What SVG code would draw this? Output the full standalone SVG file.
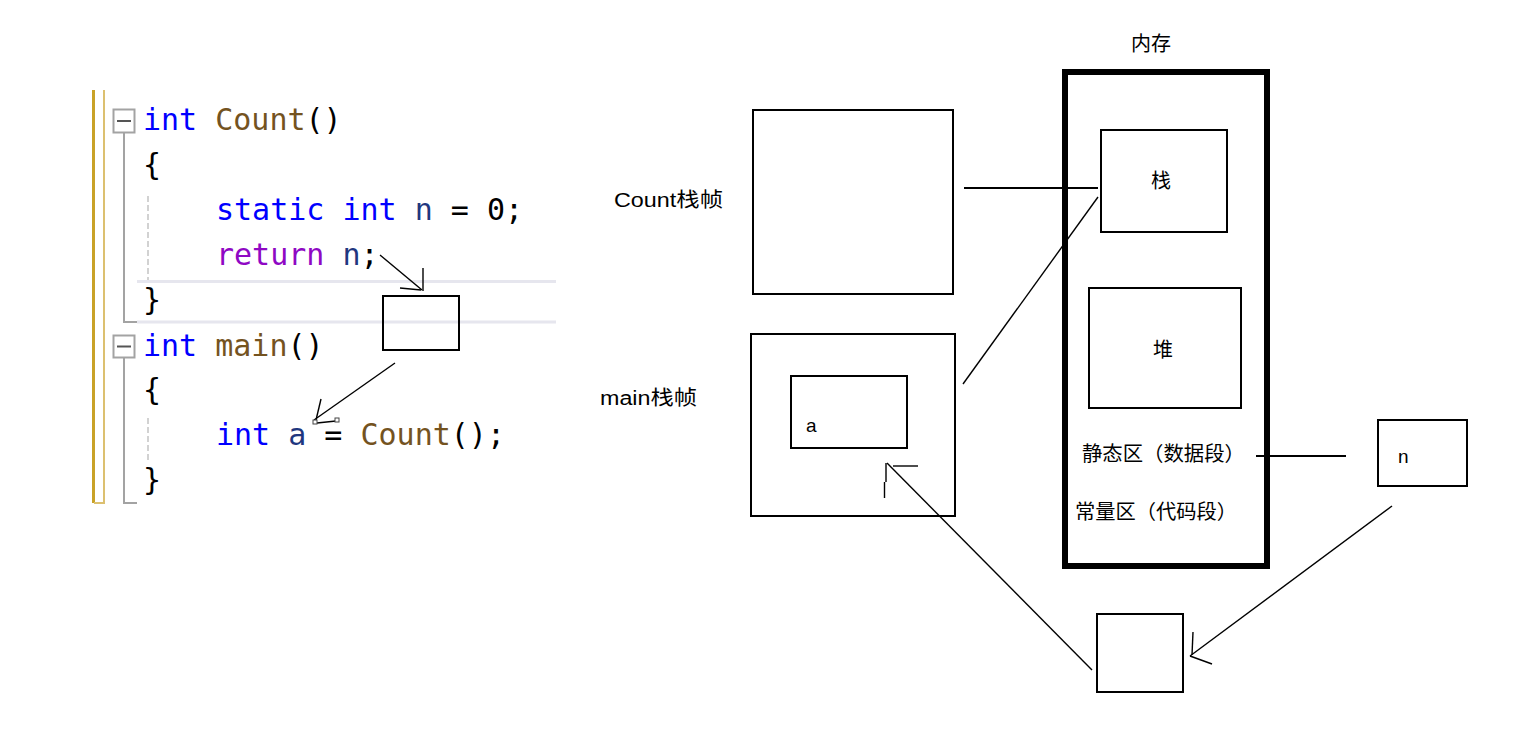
<svg xmlns="http://www.w3.org/2000/svg" width="1517" height="730" viewBox="0 0 1517 730">
<style>
.code{font-family:"DejaVu Sans Mono","Liberation Mono",monospace;font-size:30px;fill:#000}
.kw{fill:#0000ff}.fn{fill:#74531f}.ctl{fill:#8f08c4}.var{fill:#1f377f}
.lbl{font-family:"Liberation Sans","Noto Sans CJK SC",sans-serif;font-size:20px;fill:#000}
.box{fill:none;stroke:#000;stroke-width:2}
.ln{fill:none;stroke:#000;stroke-width:1.4}
.hl{fill:none;stroke:#000;stroke-width:2}
.fold{fill:none;stroke:#a3a3a3;stroke-width:2}
.guide{fill:none;stroke:#d2d2d2;stroke-width:2;stroke-dasharray:6 3}
.band{stroke:#e6e6ee;stroke-width:3}
</style>
<rect width="1517" height="730" fill="#fff"/>

<g id="code-editor">
  <rect x="92" y="90" width="3" height="413" fill="#c9a227"/>
  <path d="M104 90 V503 H94" fill="none" stroke="#dcc070" stroke-width="2"/>
  <line class="band" x1="137" y1="281.5" x2="556" y2="281.5"/>
  <line class="band" x1="137" y1="322" x2="556" y2="322"/>
  <rect x="113.5" y="109.5" width="21" height="23" fill="#fff" stroke="#a3a3a3" stroke-width="2"/>
  <line x1="117" y1="121" x2="131" y2="121" stroke="#555" stroke-width="2"/>
  <path class="fold" d="M124 133 V322 H137"/>
  <rect x="113.5" y="335.5" width="21" height="22" fill="#fff" stroke="#a3a3a3" stroke-width="2"/>
  <line x1="117" y1="346.5" x2="131" y2="346.5" stroke="#555" stroke-width="2"/>
  <path class="fold" d="M124 358 V503 H137"/>
  <line class="guide" x1="148" y1="196" x2="148" y2="280"/>
  <line class="guide" x1="148" y1="418" x2="148" y2="460"/>
  <text class="code" x="143" y="130"><tspan class="kw">int</tspan> <tspan class="fn">Count</tspan>()</text>
  <text class="code" x="143" y="175">{</text>
  <text class="code" x="216" y="220"><tspan class="kw">static</tspan> <tspan class="kw">int</tspan> <tspan class="var">n</tspan> = 0;</text>
  <text class="code" x="216" y="265"><tspan class="ctl">return</tspan> <tspan class="var">n</tspan>;</text>
  <text class="code" x="143" y="310">}</text>
  <text class="code" x="143" y="356"><tspan class="kw">int</tspan> <tspan class="fn">main</tspan>()</text>
  <text class="code" x="143" y="400">{</text>
  <text class="code" x="216" y="445"><tspan class="kw">int</tspan> <tspan class="var">a</tspan> = <tspan class="fn">Count</tspan>();</text>
  <text class="code" x="143" y="490">}</text>
</g>

<g id="return-box">
  <rect class="box" x="383" y="296" width="76" height="54"/>
</g>

<g id="label-count">
  <text class="lbl" x="614" y="207" textLength="109" lengthAdjust="spacingAndGlyphs">Count栈帧</text>
</g>
<g id="count-frame">
  <rect class="box" x="753" y="110" width="200" height="184"/>
</g>

<g id="label-main">
  <text class="lbl" x="600" y="405" textLength="97" lengthAdjust="spacingAndGlyphs">main栈帧</text>
</g>
<g id="main-frame">
  <rect class="box" x="751" y="334" width="204" height="182"/>
</g>
<g id="var-a">
  <rect class="box" x="791" y="376" width="116" height="72"/>
  <text class="lbl" x="806" y="432" style="font-size:19px">a</text>
</g>

<g id="memory">
  <text class="lbl" x="1131" y="51">内存</text>
  <rect x="1065" y="72" width="202" height="494" fill="none" stroke="#000" stroke-width="6"/>
</g>
<g id="stack">
  <rect class="box" x="1101" y="130" width="126" height="102"/>
  <text class="lbl" x="1161" y="188" text-anchor="middle">栈</text>
</g>
<g id="heap">
  <rect class="box" x="1089" y="288" width="152" height="120"/>
  <text class="lbl" x="1163" y="357" text-anchor="middle">堆</text>
</g>
<g id="static-area">
  <text class="lbl" x="1082" y="461" textLength="163" lengthAdjust="spacingAndGlyphs">静态区（数据段）</text>
</g>
<g id="const-area">
  <text class="lbl" x="1075" y="519" textLength="162" lengthAdjust="spacingAndGlyphs">常量区（代码段）</text>
</g>
<g id="var-n">
  <rect class="box" x="1378" y="420" width="89" height="66"/>
  <text class="lbl" x="1398" y="463" style="font-size:19px">n</text>
</g>
<g id="temp-box">
  <rect class="box" x="1097" y="614" width="86" height="78"/>
</g>

<g id="connectors">
  <line class="ln" x1="380" y1="255" x2="422" y2="290"/>
  <line class="ln" x1="423" y1="268" x2="423" y2="291"/>
  <line class="ln" x1="400" y1="288" x2="421" y2="290"/>

  <line class="ln" x1="395" y1="363" x2="314" y2="420"/>
  <line class="ln" x1="321" y1="399" x2="316" y2="420"/>
  <line class="ln" x1="317" y1="423" x2="336" y2="421"/>
  <rect x="313" y="420" width="4" height="4" fill="#fff" stroke="#444" stroke-width="1"/>
  <rect x="335" y="418" width="4" height="4" fill="#fff" stroke="#444" stroke-width="1"/>

  <line class="hl" x1="964" y1="188" x2="1098" y2="188"/>
  <line class="ln" x1="963" y1="384" x2="1098" y2="197"/>

  <line class="ln" x1="1092" y1="670" x2="887" y2="463"/>
  <path class="ln" d="M886 463 V482 M884.5 482 V498"/>
  <line class="ln" x1="893" y1="466" x2="918" y2="466"/>

  <line class="hl" x1="1256" y1="456" x2="1346" y2="456"/>

  <line class="ln" x1="1392" y1="506" x2="1190" y2="656"/>
  <line class="ln" x1="1193" y1="632" x2="1192" y2="655"/>
  <line class="ln" x1="1190" y1="656" x2="1212" y2="664"/>
</g>
</svg>
